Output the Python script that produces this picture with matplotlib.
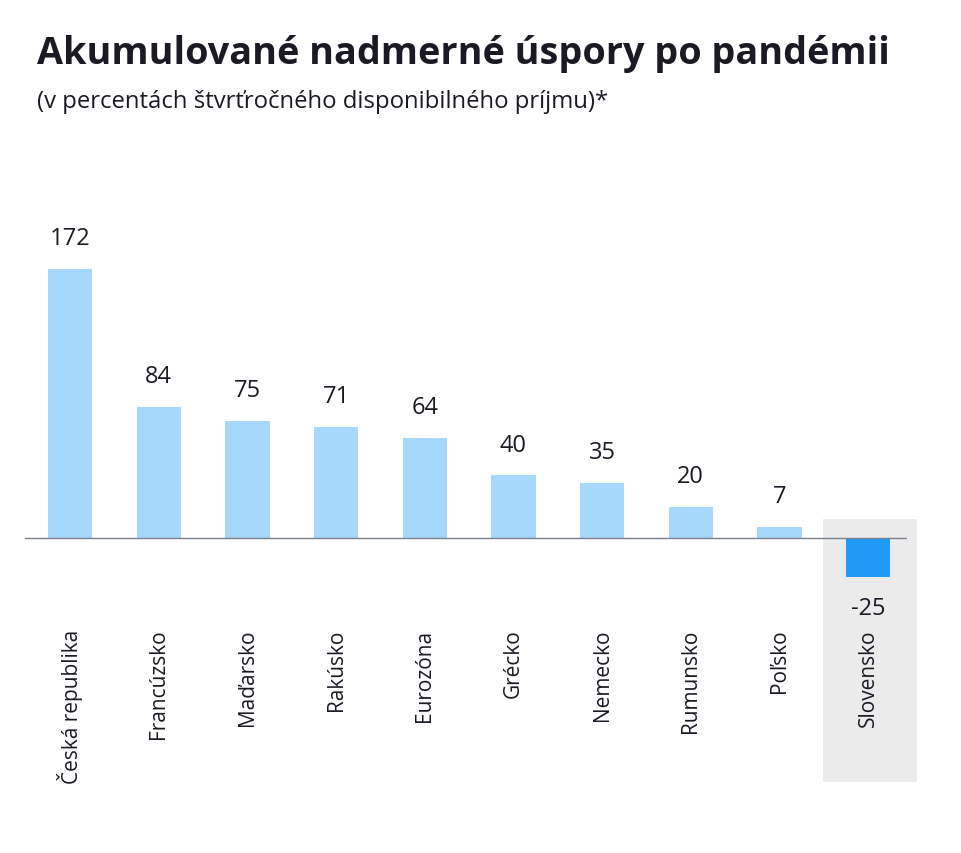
import matplotlib.pyplot as plt
from matplotlib.patches import Rectangle

plt.rcParams['font.family'] = ['Open Sans', 'DejaVu Sans']

countries = ["Česká republika", "Francúzsko", "Maďarsko", "Rakúsko", "Eurozóna",
             "Grécko", "Nemecko", "Rumunsko", "Poľsko", "Slovensko"]
values = [172, 84, 75, 71, 64, 40, 35, 20, 7, -25]
highlight = "Slovensko"

light_blue = "#a6d8fb"
dark_blue = "#1f9bf7"
grey_box = "#ebebeb"
text_col = "#1a1a24"

fig = plt.figure(figsize=(9.62, 8.54), dpi=100)
W, H = 962, 854
# axes in pixel coords: left 25, right 907, zero line at 539
ymin, ymax = -30, 200
ppu = 1.564
top_px = 539 - ymax * ppu
bot_px = 539 - ymin * ppu
ax = fig.add_axes([25 / W, 1 - bot_px / H, 882 / W, (bot_px - top_px) / H])
ax.set_xlim(-0.51, 9.44)
ax.set_ylim(ymin, ymax)
ax.axis('off')

x = list(range(len(countries)))
cols = [dark_blue if c == highlight else light_blue for c in countries]

# grey highlight box behind Slovakia
hi = countries.index(highlight)
ax.add_patch(Rectangle((hi - 0.503, -156), 1.06, 168, facecolor=grey_box,
                       edgecolor='none', clip_on=False, zorder=0))

ax.bar(x, values, width=0.5, color=cols, zorder=2)
ax.axhline(0, color="#7a8290", lw=1.0, zorder=3)

for xi, v, c in zip(x, values, countries):
    if v >= 0:
        ax.text(xi, v + 12, str(v), ha='center', va='bottom', fontsize=17,
                fontweight='medium', color=text_col, zorder=4)
    else:
        ax.text(xi, v - 12, str(v), ha='center', va='top', fontsize=17,
                fontweight='medium', color=text_col, zorder=4)
    ax.text(xi, -58, c, rotation=90, ha='center', va='top', fontsize=15,
            color=text_col, clip_on=False, zorder=4)

fig.text(37 / W, 1 - 64 / H, "Akumulované nadmerné úspory po pandémii",
         fontsize=27.2, fontweight='bold', color=text_col, ha='left', va='baseline')
fig.text(37 / W, 1 - 108 / H, "(v percentách štvrťročného disponibilného príjmu)*",
         fontsize=17.2, color=text_col, ha='left', va='baseline')

fig.savefig("out.png", dpi=100, facecolor='white')
